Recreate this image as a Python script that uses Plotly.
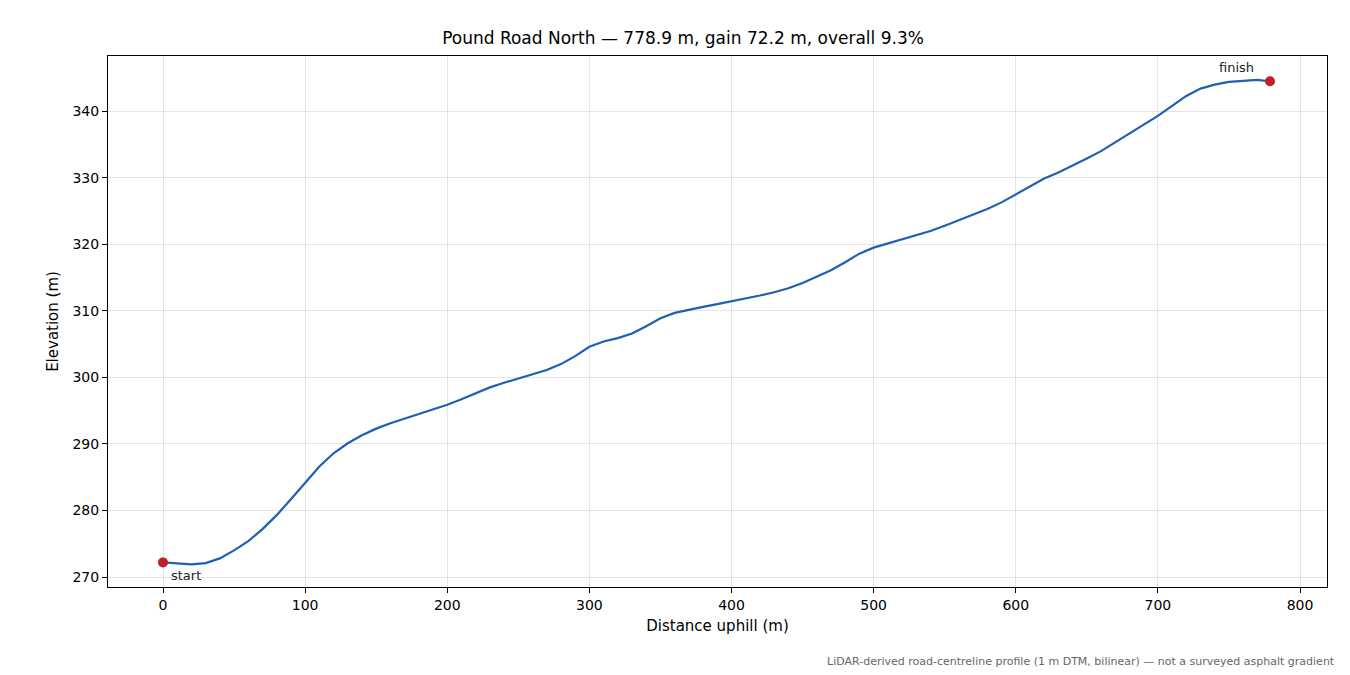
import plotly.graph_objects as go

dist = [0,10,20,30,40,50,60,70,80,90,100,110,120,130,140,150,160,170,180,190,200,210,220,230,240,250,260,270,280,290,300,310,320,330,340,350,360,370,380,390,400,410,420,430,440,450,460,470,480,490,500,510,520,530,540,550,560,570,580,590,600,610,620,630,640,650,660,670,680,690,700,710,720,730,740,750,760,770,778.9]
elev = [272.2,272.0,271.9,272.1,272.8,274.0,275.4,277.2,279.3,281.7,284.2,286.6,288.6,290.1,291.3,292.3,293.1,293.8,294.4,295.1,295.9,296.7,297.6,298.5,299.2,299.8,300.4,301.1,302.0,303.2,304.6,305.4,305.9,306.6,307.7,308.9,309.7,310.2,310.6,311.0,311.4,311.8,312.3,312.8,313.4,314.2,315.1,316.1,317.3,318.6,319.5,320.1,320.7,321.3,322.0,322.8,323.6,324.4,325.3,326.3,327.5,328.8,329.9,330.8,331.8,332.9,334.0,335.3,336.6,337.9,339.3,340.8,342.3,343.4,344.0,344.4,344.6,344.7,344.5]
title = "Pound Road North — 778.9 m, gain 72.2 m, overall 9.3%"
note = "LiDAR-derived road-centreline profile (1 m DTM, bilinear) — not a surveyed asphalt gradient"

fig = go.Figure()
fig.add_trace(go.Scatter(x=dist, y=elev, mode="lines", line=dict(color="#1f5fb4", width=2.2), showlegend=False))
fig.add_trace(go.Scatter(x=[dist[0], dist[-1]], y=[elev[0], elev[-1]], mode="markers",
                         marker=dict(color="#c0202a", size=10), showlegend=False))
fig.add_annotation(x=dist[0], y=elev[0], text="start", showarrow=False, xanchor="left", yanchor="top", xshift=6, yshift=-4, font=dict(size=13, color="#222"))
fig.add_annotation(x=dist[-1], y=elev[-1], text="finish", showarrow=False, xanchor="right", yanchor="bottom", xshift=-14, yshift=4, font=dict(size=13, color="#222"))
fig.add_annotation(xref="paper", yref="paper", x=1.008, y=-0.125, text=note, showarrow=False, xanchor="right", yanchor="top", font=dict(size=11, color="#666"))

ax = dict(showline=True, linecolor="black", mirror=True, ticks="outside", ticklen=5, tickcolor="black",
          gridcolor="rgba(0,0,0,0.1)", zeroline=False, tickfont=dict(size=14, color="black"))
fig.update_layout(width=1350, height=675, template="simple_white", plot_bgcolor="white",
                  margin=dict(l=100, r=31, t=48, b=96),
                  font=dict(family="DejaVu Sans", color="black"),
                  title=dict(text=title, x=0.5, xanchor="center", y=0.965, font=dict(size=17)),
                  xaxis=dict(ax, range=[-38.7, 819], dtick=100, showgrid=True, title=dict(text="Distance uphill (m)", font=dict(size=15), standoff=8)),
                  yaxis=dict(ax, range=[268.5, 348.3], dtick=10, showgrid=True, title=dict(text="Elevation (m)", font=dict(size=15), standoff=10)))
fig.write_html("out.html")
